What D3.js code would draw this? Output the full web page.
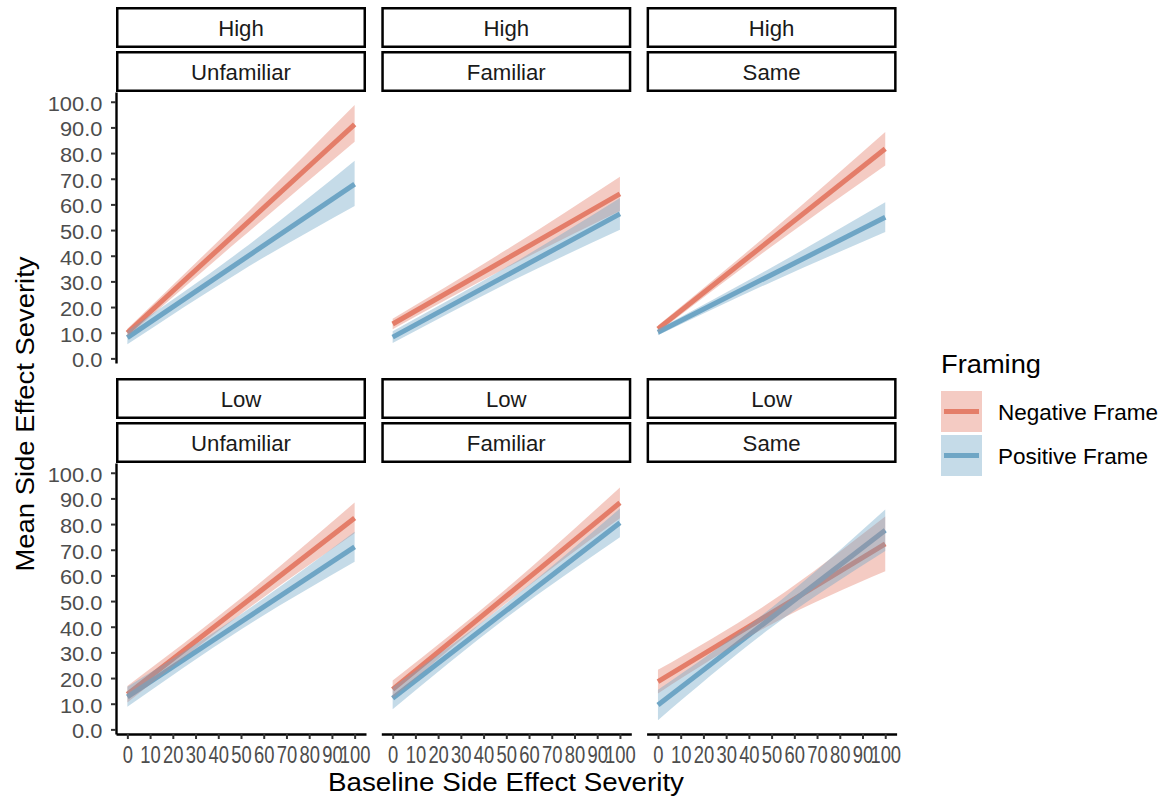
<!DOCTYPE html>
<html>
<head>
<meta charset="utf-8">
<script src="https://cdn.jsdelivr.net/npm/d3@7"></script>
<style>
  html, body { margin: 0; padding: 0; background: #fff; }
  svg { display: block; font-family: "Liberation Sans", Arial, Helvetica, sans-serif; }
</style>
</head>
<body>
<svg id="chart" width="1165" height="803"></svg>
<script>
// ---------------- data ----------------
const rowLabels = ["High", "Low"];
const colLabels = ["Unfamiliar", "Familiar", "Same"];
const frameLabels = ["Negative Frame", "Positive Frame"];
const xTicks = [0, 10, 20, 30, 40, 50, 60, 70, 80, 90, 100];
const yTicks = [0, 10, 20, 30, 40, 50, 60, 70, 80, 90, 100];
const fitX = [0, 100];
const ribbonX = [0, 50, 100];
// panel order: High-Unfamiliar, High-Familiar, High-Same, Low-Unfamiliar, Low-Familiar, Low-Same
const negFit = [[10.0, 91.2], [13.4, 64.1], [11.5, 81.7], [13.7, 82.4], [15.6, 88.3], [18.6, 72.3]];
const posFit = [[8.1, 67.9], [8.3, 56.3], [10.2, 55.0], [12.7, 71.1], [12.1, 80.5], [9.5, 77.6]];
const negLower = [[8.5, 46.8, 84.4], [11.4, 35.3, 57.4], [10.2, 43.6, 75.2], [10.5, 45.0, 76.4], [12.2, 49.2, 82.3], [14.0, 41.0, 61.6]];
const negUpper = [[11.5, 54.4, 98.7], [15.4, 42.3, 70.8], [12.8, 49.6, 88.2], [16.9, 51.1, 88.4], [19.0, 54.8, 94.3], [23.2, 50.0, 83.0]];
const posLower = [[5.5, 34.0, 59.4], [6.0, 29.1, 50.1], [9.0, 29.8, 49.2], [8.8, 38.9, 65.3], [7.8, 43.5, 74.9], [3.6, 39.8, 69.5]];
const posUpper = [[10.7, 42.0, 77.0], [10.6, 35.5, 62.5], [11.4, 35.4, 60.8], [16.6, 44.9, 77.0], [16.4, 49.1, 86.1], [15.4, 47.4, 85.7]];

// ---------------- style / layout ----------------
const lineColors = ["#E47E69", "#6FA6C5"];
const ribbonOpacity = 0.4;
const panelW = 250, panelH = 271;
const colX = [116, 381.3, 646.6];
const rowY = [92, 463];
const stripH = 41;

const svg = d3.select("#chart");
const x = d3.scaleLinear().domain([-5, 105]).range([0, panelW]);
const y = d3.scaleLinear().domain([-1.8, 103.8]).range([panelH, 0]);

const fits = [negFit, posFit];
const lowers = [negLower, posLower];
const uppers = [negUpper, posUpper];

const line = d3.line().x(d => x(d[0])).y(d => y(d[1]));
const area = d3.area().x(d => x(d[0])).y0(d => y(d[1])).y1(d => y(d[2])).curve(d3.curveMonotoneX);

rowLabels.forEach((rl, r) => {
  colLabels.forEach((cl, c) => {
    const idx = r * colLabels.length + c;
    const g = svg.append("g").attr("transform", `translate(${colX[c]},${rowY[r]})`);

    // strips
    [rl, cl].forEach((lab, k) => {
      const top = k === 0 ? -85 : -41;
      g.append("rect")
        .attr("x", 1.25).attr("y", top + 1.25)
        .attr("width", panelW - 2.5).attr("height", stripH - 2.5)
        .attr("fill", "#fff").attr("stroke", "#000").attr("stroke-width", 2.5);
      g.append("text")
        .attr("x", panelW / 2).attr("y", top + 29)
        .attr("text-anchor", "middle")
        .attr("font-size", "22.2px").attr("fill", "#1a1a1a")
        .text(lab);
    });

    // lines first
    fits.forEach((f, s) => {
      g.append("path")
        .datum(fitX.map((xv, i) => [xv, f[idx][i]]))
        .attr("d", line)
        .attr("fill", "none")
        .attr("stroke", lineColors[s])
        .attr("stroke-width", 5);
    });
    // ribbons on top
    fits.forEach((f, s) => {
      g.append("path")
        .datum(ribbonX.map((xv, i) => [xv, lowers[s][idx][i], uppers[s][idx][i]]))
        .attr("d", area)
        .attr("fill", lineColors[s])
        .attr("fill-opacity", ribbonOpacity)
        .attr("stroke", "none");
    });

    // y axis on first column
    if (c === 0) {
      const ya = g.append("g")
        .call(d3.axisLeft(y).tickValues(yTicks).tickFormat(d3.format(".1f")).tickSize(5).tickSizeOuter(0));
      ya.select(".domain").attr("stroke", "#000").attr("stroke-width", 2.4);
      ya.selectAll(".tick line").attr("stroke", "#333").attr("stroke-width", 2);
      ya.selectAll(".tick text")
        .attr("x", -12.2).attr("dy", "0.43em")
        .attr("transform", "scale(1.12,1)")
        .attr("font-size", "19.5px").attr("fill", "#4D4D4D")
        .attr("font-family", null);
    }
    // x axis on bottom row
    if (r === rowLabels.length - 1) {
      const xa = g.append("g").attr("transform", `translate(0,${panelH})`)
        .call(d3.axisBottom(x).tickValues(xTicks).tickFormat(d3.format("d")).tickSize(5).tickSizeOuter(0));
      xa.select(".domain").attr("stroke", "#000").attr("stroke-width", 2.4);
      xa.selectAll(".tick line").attr("stroke", "#333").attr("stroke-width", 2);
      xa.selectAll(".tick text")
        .attr("y", 29.5).attr("dy", null)
        .attr("transform", "scale(0.8,1)")
        .attr("font-size", "23px").attr("fill", "#4D4D4D")
        .attr("font-family", null);
    }
  });
});

// axis titles
svg.append("text")
  .attr("x", 506).attr("y", 791)
  .attr("text-anchor", "middle")
  .attr("font-size", "25px").attr("fill", "#000")
  .attr("textLength", 356).attr("lengthAdjust", "spacingAndGlyphs")
  .text("Baseline Side Effect Severity");
svg.append("text")
  .attr("transform", "translate(34,414) rotate(-90)")
  .attr("text-anchor", "middle")
  .attr("font-size", "25px").attr("fill", "#000")
  .attr("textLength", 315).attr("lengthAdjust", "spacingAndGlyphs")
  .text("Mean Side Effect Severity");

// legend
const lg = svg.append("g");
lg.append("text")
  .attr("x", 941).attr("y", 373)
  .attr("font-size", "26px").attr("fill", "#000")
  .attr("textLength", 100).attr("lengthAdjust", "spacingAndGlyphs")
  .text("Framing");
frameLabels.forEach((lab, s) => {
  const top = 391 + s * 44;
  lg.append("rect")
    .attr("x", 941).attr("y", top).attr("width", 41).attr("height", 41)
    .attr("fill", lineColors[s]).attr("fill-opacity", ribbonOpacity);
  lg.append("line")
    .attr("x1", 944).attr("x2", 979)
    .attr("y1", top + 20.5).attr("y2", top + 20.5)
    .attr("stroke", lineColors[s]).attr("stroke-width", 5);
  lg.append("text")
    .attr("x", 998).attr("y", top + 29)
    .attr("font-size", "22.5px").attr("fill", "#000")
    .text(lab);
});
</script>
</body>
</html>
